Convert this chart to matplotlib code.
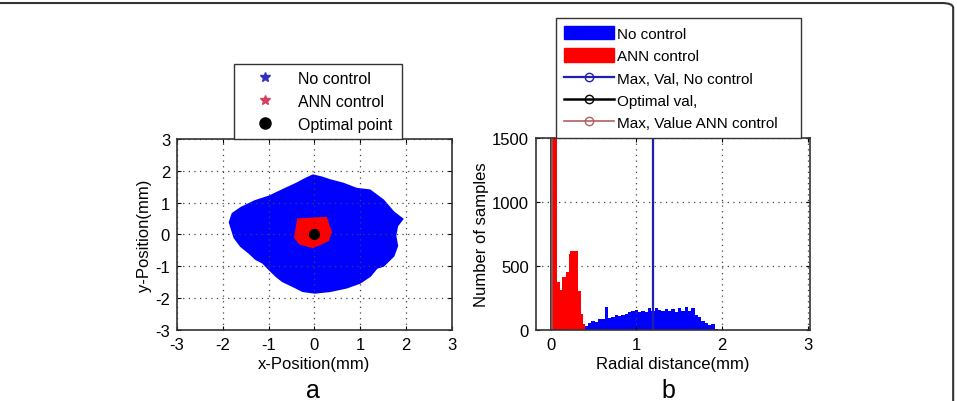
import numpy as np
import matplotlib
matplotlib.use("Agg")
import matplotlib.pyplot as plt
from matplotlib.lines import Line2D
from matplotlib.patches import Patch, FancyBboxPatch
from matplotlib.legend_handler import HandlerLine2D

plt.rcParams['font.family'] = ['Liberation Sans', 'DejaVu Sans']
plt.rcParams['axes.unicode_minus'] = False

# --- panel a: outline of the scattered positions (mm) ---
no_ctrl_x = [-0.03, 0.15, 0.34, 0.63, 0.92, 1.21, 1.50, 1.72, 1.91, 1.80, 1.76, 1.80,
             1.72, 1.50, 1.36, 1.21, 0.99, 0.70, 0.34, 0.01, -0.25, -0.47, -0.69, -0.83,
             -0.98, -1.12, -1.27, -1.42, -1.60, -1.74, -1.84, -1.78, -1.60, -1.30, -0.98,
             -0.69, -0.39, -0.18]
no_ctrl_y = [1.84, 1.78, 1.69, 1.58, 1.42, 1.37, 1.06, 0.69, 0.48, 0.27, -0.04, -0.36,
             -0.67, -0.98, -1.04, -1.30, -1.51, -1.66, -1.77, -1.82, -1.77, -1.61, -1.46,
             -1.30, -1.09, -0.88, -0.77, -0.57, -0.36, -0.09, 0.38, 0.64, 0.82, 1.03, 1.18,
             1.38, 1.58, 1.74]
ann_x = [-0.36, 0.26, 0.37, 0.30, -0.03, -0.32, -0.43]
ann_y = [0.48, 0.53, 0.06, -0.20, -0.41, -0.30, -0.09]
opt_x, opt_y = 0.0, 0.0

# --- panel b: histograms of radial distance ---
ann_edges = [0.01, 0.07, 0.11, 0.135, 0.175, 0.213, 0.233, 0.32, 0.35, 0.38, 0.40]
ann_counts = [3000, 377, 312, 417, 456, 594, 615, 307, 125, 47]

no_ctrl_start = 0.40
bin_w = 0.0388
no_ctrl_counts = [29, 50, 73, 60, 86, 85, 177, 91, 100, 117, 112, 118, 125, 138, 150,
                  159, 143, 151, 138, 169, 151, 169, 159, 151, 164, 151, 164, 143, 169,
                  151, 177, 151, 169, 117, 99, 73, 55, 34, 47, 8]
max_val_no_ctrl = 1.2
opt_val = 0.0
max_val_ann = 0.02

BLUE = '#0000ff'
RED = '#ff0000'


class RightMarker(HandlerLine2D):
    # marker at the right end of the line, as in the original legend
    def get_xdata(self, legend, xdescent, ydescent, width, height, fontsize):
        xdata = np.array([-xdescent, -xdescent + width])
        return xdata, np.array([-xdescent + width * 0.92])


fig = plt.figure(figsize=(9.57, 4.02), dpi=100)

# panel a
ax1 = fig.add_axes([0.185, 0.177, 0.287, 0.475])
ax1.fill(no_ctrl_x, no_ctrl_y, color=BLUE, lw=2, ec=BLUE)
ax1.fill(ann_x, ann_y, color=RED, lw=1, ec=RED)
ax1.plot(opt_x, opt_y, 'o', color='black', ms=7)
ax1.set_xlim(-3, 3)
ax1.set_ylim(-3, 3)
ax1.set_xticks(range(-3, 4))
ax1.set_yticks(range(-3, 4))
ax1.set_xlabel('x-Position(mm)', fontsize=12, labelpad=3)
ax1.set_ylabel('y-Position(mm)', fontsize=12, labelpad=2)
ax1.grid(True, linestyle=(0, (1, 3.5)), color='#444444', lw=0.9)

h1 = [Line2D([], [], ls='none', marker='*', color='#3030c0', ms=7),
      Line2D([], [], ls='none', marker='*', color='#d04060', ms=7),
      Line2D([], [], ls='none', marker='o', color='black', ms=8)]
fig.legend(h1, ['No control', 'ANN control', 'Optimal point'],
           loc='lower left', bbox_to_anchor=(0.2445, 0.652, 0.1755, 0.19),
           mode='expand', borderaxespad=0, fontsize=11.5, fancybox=False,
           edgecolor='#333333', framealpha=1, handlelength=3.0, handletextpad=0.55,
           labelspacing=0.5, borderpad=0.45)

# panel b
ax2 = fig.add_axes([0.560, 0.177, 0.286, 0.477])
no_ctrl_edges = no_ctrl_start + bin_w * np.arange(len(no_ctrl_counts) + 1)
ax2.stairs(no_ctrl_counts, no_ctrl_edges, fill=True, color=BLUE)
ax2.stairs(ann_counts, ann_edges, fill=True, color=RED)
l1, = ax2.plot([max_val_no_ctrl, max_val_no_ctrl], [0, 3000], color='#2020b0', lw=1.6,
               marker='o', mfc='none', markevery=[1])
l2, = ax2.plot([opt_val, opt_val], [0, 3000], color='black', lw=1.8,
               marker='o', mfc='none', markevery=[1])
l3, = ax2.plot([max_val_ann, max_val_ann], [0, 3000], color='#b06060', lw=1.2,
               marker='o', mfc='none', markevery=[1])
ax2.set_xlim(-0.17, 3.02)
ax2.set_ylim(0, 1500)
ax2.set_xticks([0, 1, 2, 3])
ax2.set_yticks([0, 500, 1000, 1500])
ax2.set_xlabel('Radial distance(mm)', fontsize=12, labelpad=3)
ax2.set_ylabel('Number of samples', fontsize=12, labelpad=2)
ax2.grid(True, linestyle=(0, (1, 3.5)), color='#444444', lw=0.9)

h2 = [Patch(color=BLUE), Patch(color=RED), l1, l2, l3]
fig.legend(h2, ['No control', 'ANN control', 'Max, Val, No control', 'Optimal val,',
                'Max, Value ANN control'],
           loc='lower left', bbox_to_anchor=(0.581, 0.654, 0.256, 0.30),
           mode='expand', borderaxespad=0, fontsize=11, fancybox=False,
           edgecolor='#333333', framealpha=1, handlelength=3.3, handleheight=1.0,
           handletextpad=0.2, labelspacing=0.48, borderpad=0.5,
           handler_map={Line2D: RightMarker()})

for ax in (ax1, ax2):
    ax.tick_params(direction='in', top=True, right=True, labelsize=12, length=3, pad=5)
    for s in ax.spines.values():
        s.set_color('#333333')
        s.set_linewidth(1.2)

fig.text(0.327, 0.01, 'a', fontsize=18, ha='center')
fig.text(0.698, 0.01, 'b', fontsize=18, ha='center')

# journal frame: top and right edges with a rounded corner
fig.add_artist(FancyBboxPatch((-0.05, -0.05), 1.046, 1.04, boxstyle='round,pad=0,rounding_size=0.012',
                              transform=fig.transFigure, fc='none', ec='#333333', lw=1.5,
                              clip_on=False))

fig.savefig('out.png', dpi=100)
